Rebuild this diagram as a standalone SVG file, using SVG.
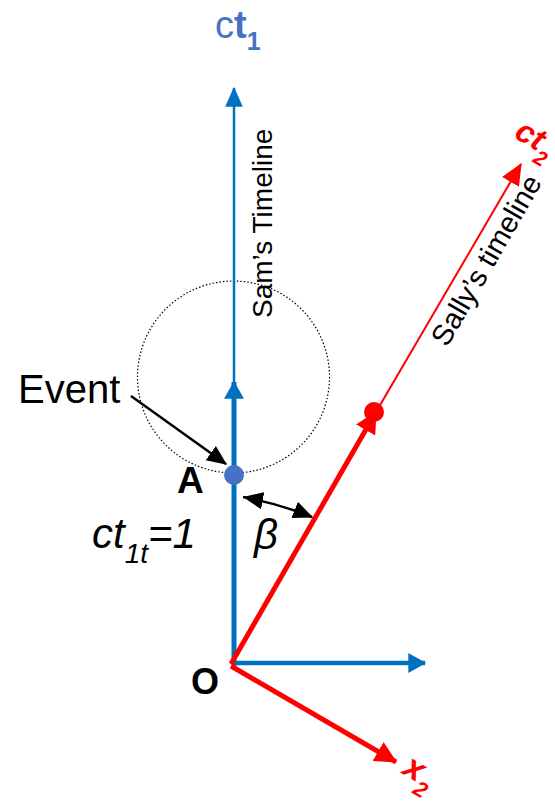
<svg xmlns="http://www.w3.org/2000/svg" width="555" height="808" viewBox="0 0 555 808">
<style>
.blue{stroke:#0070C0;fill:none}
.red{stroke:#FF0000;fill:none}
.blk{stroke:#000;fill:none}
.t{font-family:"Liberation Sans",Arial,sans-serif}
</style>
<defs>
<marker id="ahBlueThick" markerUnits="userSpaceOnUse" markerWidth="20" markerHeight="20" viewBox="0 0 16 18" refX="15" refY="9" orient="auto"><path d="M0,0 L16,9 L0,18 z" fill="#0070C0"/></marker>
<marker id="ahBlueThin" markerUnits="userSpaceOnUse" markerWidth="20" markerHeight="20" viewBox="0 0 17 15" refX="16" refY="7.5" orient="auto"><path d="M0,0 L17,7.5 L0,15 z" fill="#0070C0"/></marker>
<marker id="ahRed" markerUnits="userSpaceOnUse" markerWidth="22" markerHeight="22" viewBox="0 0 18 18" refX="17" refY="9" orient="auto"><path d="M0,0 L18,9 L0,18 z" fill="#FF0000"/></marker>
<marker id="ahRedThin" markerUnits="userSpaceOnUse" markerWidth="22" markerHeight="22" viewBox="0 0 18 16" refX="17" refY="8" orient="auto"><path d="M0,0 L18,8 L0,16 z" fill="#FF0000"/></marker>
<marker id="ahBlk" markerUnits="userSpaceOnUse" markerWidth="20" markerHeight="20" viewBox="0 0 16 14" refX="15" refY="7" orient="auto"><path d="M0,0 L16,7 L0,14 z" fill="#000"/></marker>
<marker id="ahBlkS" markerUnits="userSpaceOnUse" markerWidth="20" markerHeight="20" viewBox="0 0 14 12" refX="0" refY="6" orient="auto"><path d="M14,0 L0,6 L14,12 z" fill="#000"/></marker>
</defs>

<g id="circle">
<circle cx="233.5" cy="377" r="96" fill="none" stroke="#000" stroke-width="1.2" stroke-dasharray="1.5 2"/>
</g>

<g id="connectors">
<line class="blue" x1="234" y1="400" x2="234" y2="88" stroke-width="2.5" marker-end="url(#ahBlueThin)"/>
<line class="blue" x1="234" y1="666" x2="234" y2="382" stroke-width="5" marker-end="url(#ahBlueThick)"/>
<line class="blue" x1="232" y1="663" x2="425" y2="663" stroke-width="4.5" marker-end="url(#ahBlueThick)"/>
<line class="red" x1="231" y1="664" x2="376" y2="412" stroke-width="5" marker-end="url(#ahRed)"/>
<line class="red" x1="376" y1="412" x2="521" y2="164" stroke-width="2" marker-end="url(#ahRedThin)"/>
<line class="red" x1="231" y1="666" x2="396" y2="762" stroke-width="5" marker-end="url(#ahRed)"/>
<line class="blk" x1="131" y1="396" x2="226" y2="464" stroke-width="2.5" marker-end="url(#ahBlk)"/>
<path class="blk" d="M243,497 Q280,504 312,517" stroke-width="2.5" marker-start="url(#ahBlkS)" marker-end="url(#ahBlk)"/>
</g>

<g id="nodeA">
<circle cx="234" cy="475" r="10" fill="#4472C4"/>
<text class="t" x="177" y="493" font-size="37" font-weight="bold" fill="#000">A</text>
</g>

<g id="sallyDot">
<circle cx="374" cy="412" r="10" fill="#FF0000"/>
</g>

<g id="nodeO">
<text class="t" x="191" y="694" font-size="36" font-weight="bold" fill="#000">O</text>
</g>

<g id="labelCt1">
<text class="t" x="215" y="38" font-size="38" fill="#4472C4">c<tspan font-weight="bold">t</tspan><tspan font-weight="bold" font-size="25" dy="12">1</tspan></text>
</g>

<g id="labelCt2">
<text class="t" transform="translate(513,137) rotate(30)" font-size="32" font-weight="bold" font-style="italic" fill="#FF0000">ct<tspan font-size="21" dy="12">2</tspan></text>
</g>

<g id="labelX2">
<text class="t" transform="translate(401,773) rotate(30)" font-size="34" font-weight="bold" font-style="italic" fill="#FF0000">x<tspan font-size="22" dy="12">2</tspan></text>
</g>

<g id="labelEvent">
<text class="t" x="18" y="403" font-size="40" fill="#000">Event</text>
</g>

<g id="labelCt1t">
<text class="t" x="92" y="548" font-size="42" font-style="italic" fill="#000">ct<tspan font-size="28" dy="15">1t</tspan><tspan dy="-15">=1</tspan></text>
</g>

<g id="labelBeta">
<text class="t" x="254" y="549" font-size="42" font-style="italic" fill="#000">β</text>
</g>

<g id="labelSam">
<text class="t" transform="translate(272,318) rotate(-90)" font-size="28" fill="#000">Sam’s Timeline</text>
</g>

<g id="labelSally">
<text class="t" transform="translate(447,348) rotate(-60)" font-size="29" fill="#000">Sally’s timeline</text>
</g>
</svg>
